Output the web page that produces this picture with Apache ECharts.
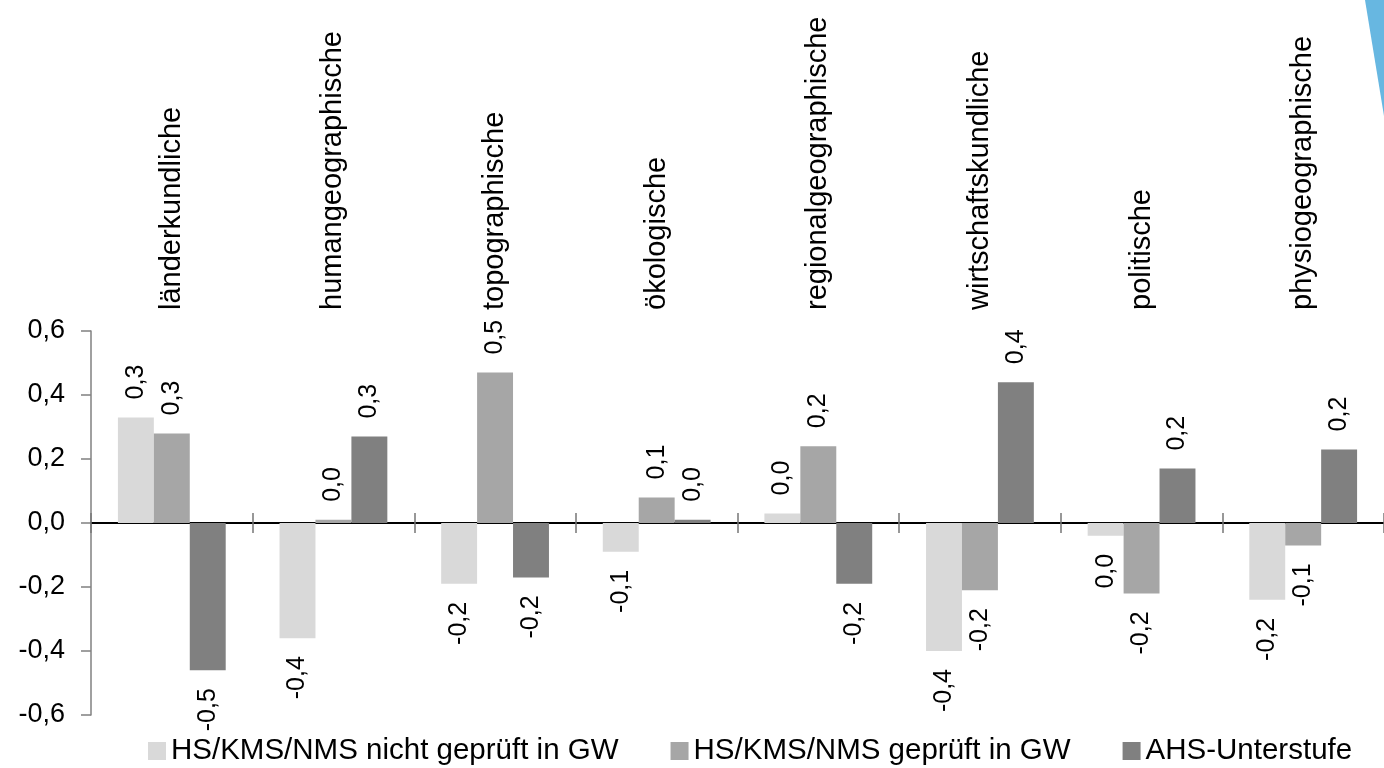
<!DOCTYPE html>
<html>
<head>
<meta charset="utf-8">
<script src="https://cdn.jsdelivr.net/npm/echarts@6/dist/echarts.min.js"></script>
<style>
html,body{margin:0;padding:0;background:#fff;}
#chart{width:1384px;height:768px;}
</style>
</head>
<body>
<div id="chart"></div>
<script>
const categories = ['länderkundliche','humangeographische','topographische','ökologische','regionalgeographische','wirtschaftskundliche','politische','physiogeographische'];
const seriesNames = ['HS/KMS/NMS nicht geprüft in GW','HS/KMS/NMS geprüft in GW','AHS-Unterstufe'];
const nichtGeprueft = [0.33, -0.36, -0.19, -0.09, 0.03, -0.40, -0.04, -0.24];
const geprueft = [0.28, 0.01, 0.47, 0.08, 0.24, -0.21, -0.22, -0.07];
const ahs = [-0.46, 0.27, -0.17, 0.01, -0.19, 0.44, 0.17, 0.23];
const nichtLabels = ['0,3','-0,4','-0,2','-0,1','0,0','-0,4','0,0','-0,2'];
const geprLabels = ['0,3','0,0','0,5','0,1','0,2','-0,2','-0,2','-0,1'];
const ahsLabels = ['-0,5','0,3','-0,2','0,0','-0,2','0,4','0,2','0,2'];

const FONT = '"Liberation Sans", Arial, sans-serif';
const colors = ['#d9d9d9','#a6a6a6','#808080'];

function buildData(vals, labels){
  return vals.map((v,i)=>({
    value: v,
    label: {
      formatter: labels[i],
      position: v >= 0 ? 'top' : 'bottom',
      align: v >= 0 ? 'left' : 'right'
    }
  }));
}

const chart = echarts.init(document.getElementById('chart'));
const labelBase = {show:true, rotate:90, verticalAlign:'middle', distance:18, fontSize:25, color:'#000', fontFamily:FONT};
const yCommon = {type:'value', min:-0.6, max:0.6, interval:0.2};

chart.setOption({
  animation:false,
  backgroundColor:'#fff',
  color: colors,
  textStyle:{fontFamily:FONT},
  grid:{left:91, top:331, width:1296, height:384, containLabel:false},
  legend:{
    left:143, top:731, itemWidth:18, itemHeight:18, itemGap:52,
    icon:'rect',
    textStyle:{fontSize:29.5, color:'#000', fontFamily:FONT},
    data: seriesNames
  },
  xAxis:[
    {type:'category', data:categories, position:'bottom',
     axisLine:{onZero:true, onZeroAxisIndex:0, lineStyle:{color:'#000', width:2}},
     axisTick:{show:true, inside:false, length:10, lineStyle:{color:'#777', width:1.5}},
     axisLabel:{show:false}, splitLine:{show:false}},
    {type:'category', data:categories, position:'bottom',
     axisLine:{onZero:true, onZeroAxisIndex:1, lineStyle:{color:'#000', width:2}},
     axisTick:{show:true, inside:true, length:10, lineStyle:{color:'#777', width:1.5}},
     axisLabel:{show:false}, splitLine:{show:false}},
    {type:'category', data:categories, position:'top',
     axisLine:{show:false, onZero:false}, axisTick:{show:false},
     axisLabel:{show:true, interval:0, rotate:-90, margin:21, fontSize:29, color:'#000', fontFamily:FONT},
     splitLine:{show:false}}
  ],
  yAxis:[
    Object.assign({}, yCommon, {
      position:'left',
      axisLine:{show:true, onZero:false, lineStyle:{color:'#808080', width:1.5}},
      axisTick:{show:true, length:10, lineStyle:{color:'#808080', width:1.5}},
      splitLine:{show:false},
      axisLabel:{margin:26, fontSize:27, color:'#000', fontFamily:FONT,
        formatter: v => Math.abs(v) < 1e-9 ? '0,0' : v.toFixed(1).replace('.', ',')}
    }),
    Object.assign({}, yCommon, {
      position:'right', show:false,
      axisLine:{show:false, onZero:false}, axisTick:{show:false}, axisLabel:{show:false}, splitLine:{show:false}
    })
  ],
  series:[
    {name:seriesNames[0], type:'bar', xAxisIndex:0, yAxisIndex:0, barGap:'0%', barCategoryGap:'33.3%', label:labelBase, data:buildData(nichtGeprueft, nichtLabels)},
    {name:seriesNames[1], type:'bar', xAxisIndex:0, yAxisIndex:0, barGap:'0%', barCategoryGap:'33.3%', label:labelBase, data:buildData(geprueft, geprLabels)},
    {name:seriesNames[2], type:'bar', xAxisIndex:0, yAxisIndex:0, barGap:'0%', barCategoryGap:'33.3%', label:labelBase, data:buildData(ahs, ahsLabels)}
  ],
  graphic:[
    {type:'polygon', silent:true, z:100, shape:{points:[[1365,0],[1384,0],[1384,116]]}, style:{fill:'#67b7e1'}}
  ]
});
</script>
</body>
</html>
